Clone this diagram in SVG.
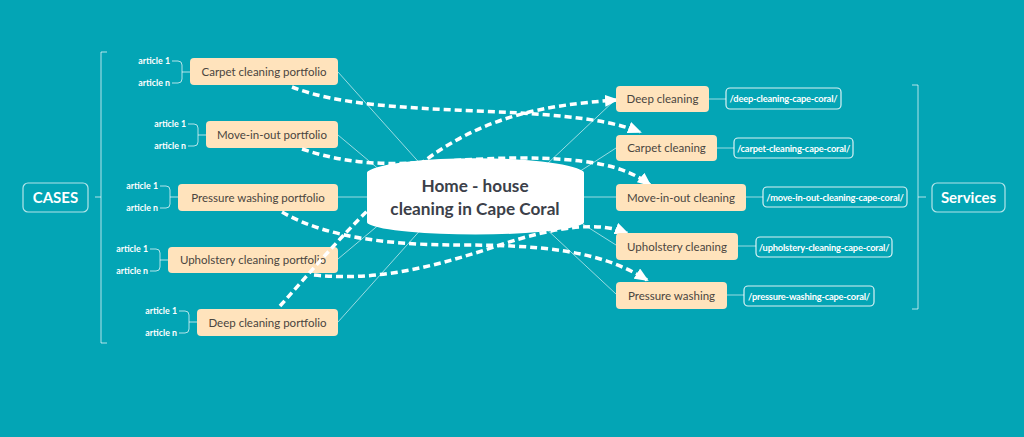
<svg xmlns="http://www.w3.org/2000/svg" width="1024" height="437" viewBox="0 0 1024 437">
<style>
.node rect{fill:#FFE3BC}
.ntext{font-family:Lato,"Liberation Sans",sans-serif;font-size:11.5px;fill:#4A4540}
.art{font-family:Lato,"Liberation Sans",sans-serif;font-size:8.8px;font-weight:bold;fill:#FFFFFF;text-anchor:end}
.url rect{fill:none;stroke:#FFFFFF;stroke-width:1.2;stroke-opacity:.85}
.utext{font-family:Lato,"Liberation Sans",sans-serif;font-size:9.3px;font-weight:bold;fill:#FFFFFF;letter-spacing:-0.2px}
.thin{fill:none;stroke:#FFFFFF;stroke-opacity:.6;stroke-width:1}
.br{fill:none;stroke:#FFFFFF;stroke-opacity:.7;stroke-width:1}
.dash{fill:none;stroke:#FFFFFF;stroke-width:3.5;stroke-dasharray:7 4;marker-end:url(#ah)}
.title{font-family:Lato,"Liberation Sans",sans-serif;font-size:15px;font-weight:bold;fill:#FFFFFF;text-anchor:middle}
</style>
<defs>
<marker id="ah" markerUnits="userSpaceOnUse" markerWidth="14" markerHeight="12" refX="12" refY="6" orient="auto" viewBox="0 0 14 12">
<path d="M0,0 L14,6 L0,12 Z" fill="#FFFFFF"/>
</marker>
</defs>
<rect width="1024" height="437" fill="#03A5B5"/>

<g id="thin-connectors">
<path class="thin" d="M338,72 L450,197"/>
<path class="thin" d="M338,135 L412,197"/>
<path class="thin" d="M338,197 L420,197"/>
<path class="thin" d="M338,259 L412,197"/>
<path class="thin" d="M338,322 L450,197"/>
<path class="thin" d="M616,99 L512,197"/>
<path class="thin" d="M616,148 L540,197"/>
<path class="thin" d="M616,197 L540,197"/>
<path class="thin" d="M616,245 L540,197"/>
<path class="thin" d="M616,294 L512,197"/>
<path class="thin" d="M709,99 H726"/>
<path class="thin" d="M717,148 H734"/>
<path class="thin" d="M746,197 H763"/>
<path class="thin" d="M738,246 H756"/>
<path class="thin" d="M727,295 H744"/>
</g>

<g id="brackets">
<path class="br" d="M107,52 H101 V343 H107 M101,197 H95"/>
<path class="br" d="M912,85 H918 V309 H912 M918,197 H926"/>
<path class="br" d="M172,61 H178 Q182,61 182,65 V79 Q182,83 178,83 H172 M182,72 H190"/>
<path class="br" d="M188,124 H194 Q198,124 198,128 V142 Q198,146 194,146 H188 M198,135 H206"/>
<path class="br" d="M160,186 H166 Q170,186 170,190 V204 Q170,208 166,208 H160 M170,197 H178"/>
<path class="br" d="M150,249 H156 Q160,249 160,253 V267 Q160,271 156,271 H150 M160,260 H168"/>
<path class="br" d="M179,311 H185 Q189,311 189,315 V329 Q189,333 185,333 H179 M189,322 H197"/>
</g>

<g id="cases">
<rect x="23" y="183" width="65" height="29" rx="5" fill="none" stroke="#FFFFFF" stroke-opacity=".7" stroke-width="1.2"/>
<text class="title" x="55.5" y="203">CASES</text>
</g>
<g id="services">
<rect x="932" y="183" width="73" height="29" rx="5" fill="none" stroke="#FFFFFF" stroke-opacity=".7" stroke-width="1.2"/>
<text class="title" x="968.5" y="203">Services</text>
</g>

<g id="p-carpet" class="node">
<rect x="190" y="58" width="148" height="27" rx="4"/>
<text class="ntext" x="264" y="75.5" text-anchor="middle">Carpet cleaning portfolio</text>
<text class="art" x="170" y="64">article 1</text>
<text class="art" x="170" y="86">article n</text>
</g>
<g id="p-move" class="node">
<rect x="206" y="121" width="132" height="27" rx="4"/>
<text class="ntext" x="272" y="138.5" text-anchor="middle">Move-in-out portfolio</text>
<text class="art" x="186" y="127">article 1</text>
<text class="art" x="186" y="149">article n</text>
</g>
<g id="p-pressure" class="node">
<rect x="178" y="184" width="160" height="27" rx="4"/>
<text class="ntext" x="258" y="201.5" text-anchor="middle">Pressure washing portfolio</text>
<text class="art" x="158" y="189">article 1</text>
<text class="art" x="158" y="211">article n</text>
</g>
<g id="p-upholstery" class="node">
<rect x="168" y="247" width="170" height="26" rx="4"/>
<text class="ntext" x="253" y="264" text-anchor="middle">Upholstery cleaning portfolio</text>
<text class="art" x="148" y="252">article 1</text>
<text class="art" x="148" y="274">article n</text>
</g>
<g id="p-deep" class="node">
<rect x="197" y="309" width="141" height="27" rx="4"/>
<text class="ntext" x="267.5" y="326.5" text-anchor="middle">Deep cleaning portfolio</text>
<text class="art" x="177" y="314">article 1</text>
<text class="art" x="177" y="336">article n</text>
</g>

<g id="dashed-connectors">
<path class="dash" d="M292,87 C380,122 560,100 640,132"/>
<path class="dash" d="M302,149 C380,175 430,158 520,158 C585,158 625,165 650,185"/>
<path class="dash" d="M282,212 C330,240 400,245 460,245 C540,245 600,250 647,280"/>
<path class="dash" d="M314,275 C380,282 440,265 500,245 C560,225 600,222 627,233"/>
<path class="dash" d="M280,306 C330,250 380,190 440,150 C490,118 540,105 617,100"/>
</g>

<g id="center">
<path d="M369,173 C395,156 556,156 582,173 L582,222 C556,236 395,236 369,222 Z" fill="#FFFFFF" stroke="#FFFFFF" stroke-width="4" stroke-linejoin="round"/>
<text x="475" y="192" text-anchor="middle" font-family="Lato,'Liberation Sans',sans-serif" font-size="17.2" font-weight="bold" fill="#3B4049">Home - house</text>
<text x="475" y="215" text-anchor="middle" font-family="Lato,'Liberation Sans',sans-serif" font-size="17.2" font-weight="bold" fill="#3B4049">cleaning in Cape Coral</text>
</g>

<g id="s-deep" class="node">
<rect x="616" y="86" width="93" height="26" rx="4"/>
<text class="ntext" x="662.5" y="103" text-anchor="middle">Deep cleaning</text>
</g>
<g id="s-carpet" class="node">
<rect x="616" y="135" width="101" height="26" rx="4"/>
<text class="ntext" x="666.5" y="152" text-anchor="middle">Carpet cleaning</text>
</g>
<g id="s-move" class="node">
<rect x="616" y="184" width="130" height="27" rx="4"/>
<text class="ntext" x="681" y="201.5" text-anchor="middle">Move-in-out cleaning</text>
</g>
<g id="s-upholstery" class="node">
<rect x="616" y="233" width="122" height="27" rx="4"/>
<text class="ntext" x="677" y="250.5" text-anchor="middle">Upholstery cleaning</text>
</g>
<g id="s-pressure" class="node">
<rect x="616" y="282" width="111" height="27" rx="4"/>
<text class="ntext" x="671.5" y="299.5" text-anchor="middle">Pressure washing</text>
</g>

<g id="u-deep" class="url">
<rect x="726" y="88" width="115" height="21" rx="4"/>
<text class="utext" x="783.5" y="102" text-anchor="middle">/deep-cleaning-cape-coral/</text>
</g>
<g id="u-carpet" class="url">
<rect x="734" y="138" width="119" height="20" rx="4"/>
<text class="utext" x="793.5" y="151.5" text-anchor="middle">/carpet-cleaning-cape-coral/</text>
</g>
<g id="u-move" class="url">
<rect x="763" y="187" width="144" height="20" rx="4"/>
<text class="utext" x="835" y="200.5" text-anchor="middle">/move-in-out-cleaning-cape-coral/</text>
</g>
<g id="u-upholstery" class="url">
<rect x="756" y="237" width="136" height="20" rx="4"/>
<text class="utext" x="824" y="250.5" text-anchor="middle">/upholstery-cleaning-cape-coral/</text>
</g>
<g id="u-pressure" class="url">
<rect x="744" y="286" width="130" height="20" rx="4"/>
<text class="utext" x="809" y="299.5" text-anchor="middle">/pressure-washing-cape-coral/</text>
</g>
</svg>
